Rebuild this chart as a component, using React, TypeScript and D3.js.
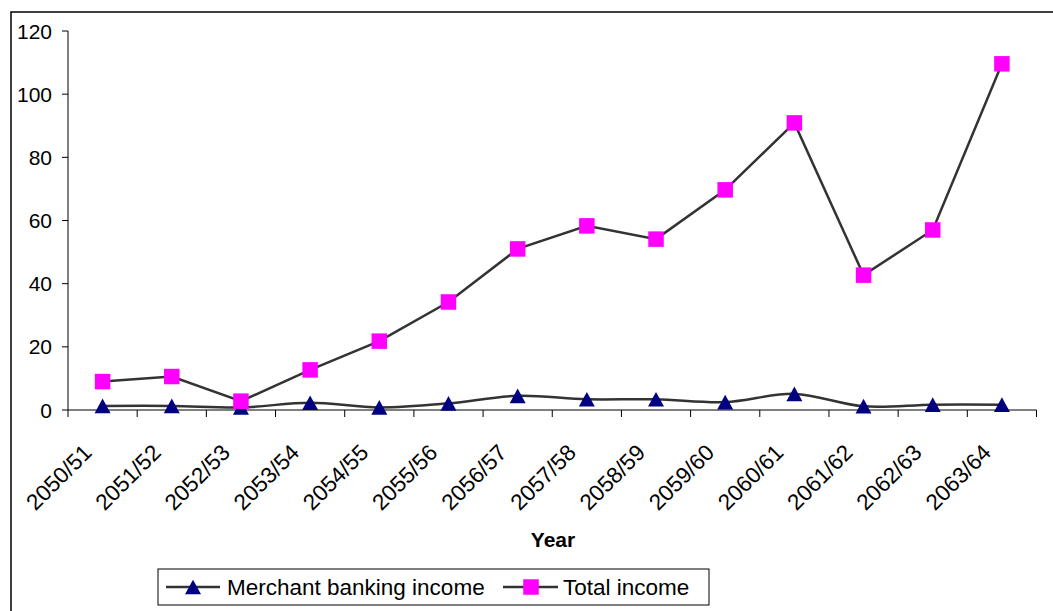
import React from "react";
import * as d3 from "d3";

const years = ["2050/51","2051/52","2052/53","2053/54","2054/55","2055/56","2056/57","2057/58","2058/59","2059/60","2060/61","2061/62","2062/63","2063/64"];
const merchantIncome = [1.3, 1.3, 0.8, 2.3, 0.8, 2.1, 4.5, 3.4, 3.4, 2.5, 5.1, 1.2, 1.7, 1.7];
const totalIncome = [9.0, 10.6, 2.8, 12.7, 21.8, 34.2, 51.0, 58.3, 54.1, 69.7, 90.9, 42.7, 57.0, 109.6];
const yTicks = [0, 20, 40, 60, 80, 100, 120];
const seriesNames = ["Merchant banking income", "Total income"];

const W = 1053, H = 611;
const left = 68, right = 1036.5, top = 31, bottom = 410;
const FONT = "'Liberation Sans', Arial, sans-serif";

export default function App() {
  const x = d3.scaleBand<string>().domain(years).range([left, right]);
  const y = d3.scaleLinear().domain([0, 120]).range([bottom, top]);
  const cx = (d: string) => (x(d) as number) + x.bandwidth() / 2;

  const mLine = d3.line<number>().x((_, i) => cx(years[i])).y(v => y(v)).curve(d3.curveCatmullRom.alpha(0.5));
  const tLine = d3.line<number>().x((_, i) => cx(years[i])).y(v => y(v));

  const tri = (px: number, py: number, s = 16) => {
    const h = s * 0.92;
    return `M${px},${py - h / 2}L${px + s / 2},${py + h / 2}L${px - s / 2},${py + h / 2}Z`;
  };
  const sq = 15.5;

  return (
    <svg width={W} height={H} style={{ position: "absolute", left: 0, top: 0, display: "block", background: "#fff" }} fontFamily={FONT}>
      <rect x={11} y={12} width={1100} height={700} fill="#fff" stroke="#000" strokeWidth={1.5} />
      {/* y axis */}
      <line x1={left} x2={left} y1={top} y2={bottom} stroke="#000" strokeWidth={1} />
      {yTicks.map(t => (
        <g key={t}>
          <line x1={left - 6} x2={left} y1={y(t)} y2={y(t)} stroke="#000" />
          <text x={52} y={y(t)} dy="0.36em" textAnchor="end" fontSize={21}>{t}</text>
        </g>
      ))}
      {/* x axis */}
      <line x1={left} x2={right} y1={bottom} y2={bottom} stroke="#000" strokeWidth={1} />
      {years.map((d, i) => (
        <line key={"t" + i} x1={x(d) as number} x2={x(d) as number} y1={bottom} y2={bottom + 7} stroke="#000" />
      ))}
      <line x1={right} x2={right} y1={bottom} y2={bottom + 7} stroke="#000" />
      {years.map(d => {
        const ax = cx(d) - 9.5, ay = 454;
        return (
          <text key={"l" + d} x={ax} y={ay} textAnchor="end" fontSize={22.5} transform={`rotate(-45,${ax},${ay})`}>{d}</text>
        );
      })}
      <text x={553} y={547} textAnchor="middle" fontSize={21} fontWeight="bold">Year</text>
      {/* lines */}
      <path d={mLine(merchantIncome) || ""} fill="none" stroke="#333" strokeWidth={2.5} />
      <path d={tLine(totalIncome) || ""} fill="none" stroke="#333" strokeWidth={2.5} />
      {merchantIncome.map((v, i) => (
        <path key={"m" + i} d={tri(cx(years[i]), y(v))} fill="#000080" />
      ))}
      {totalIncome.map((v, i) => (
        <rect key={"s" + i} x={cx(years[i]) - sq / 2} y={y(v) - sq / 2} width={sq} height={sq} fill="#ff00ff" />
      ))}
      {/* legend */}
      <rect x={158} y={569} width={551} height={36} fill="#fff" stroke="#000" strokeWidth={1} />
      <line x1={166} x2={220} y1={587} y2={587} stroke="#333" strokeWidth={2.5} />
      <path d={tri(193, 587)} fill="#000080" />
      <text x={227} y={595} fontSize={22.5}>{seriesNames[0]}</text>
      <line x1={503} x2={558} y1={587} y2={587} stroke="#333" strokeWidth={2.5} />
      <rect x={531 - sq / 2} y={587 - sq / 2} width={sq} height={sq} fill="#ff00ff" />
      <text x={563} y={595} fontSize={22.5}>{seriesNames[1]}</text>
    </svg>
  );
}
